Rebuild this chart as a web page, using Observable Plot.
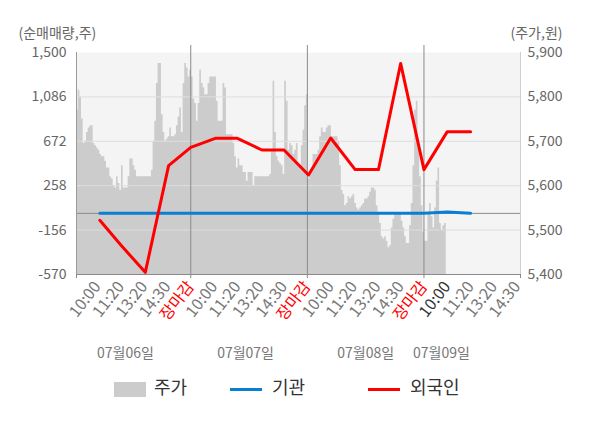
<!DOCTYPE html>
<html><head><meta charset="utf-8">
<script src="https://cdn.jsdelivr.net/npm/d3@7"></script>
<script src="https://cdn.jsdelivr.net/npm/@observablehq/plot@0.6"></script>
<style>
body{margin:0;background:#fff;font-family:"Noto Sans CJK KR","Noto Sans",sans-serif;}
#wrap{position:relative;width:600px;height:428px;overflow:hidden;}
#chart svg{display:block;}
.legend{position:absolute;top:374px;left:0;width:600px;height:24px;font-size:18px;color:#333;}
.item{position:absolute;top:0;height:24px;line-height:24px;white-space:nowrap;}
.sw{display:inline-block;vertical-align:middle;margin-right:8px;}
</style></head><body>
<div id="wrap"><div id="chart"></div>
<div class="legend">
  <div class="item" style="left:114px"><span class="sw" style="width:32px;height:15px;background:#cccccc"></span>주가</div>
  <div class="item" style="left:230px"><span class="sw" style="width:32px;height:3px;background:#0a7fd2;margin-right:10px"></span>기관</div>
  <div class="item" style="left:368px"><span class="sw" style="width:32px;height:3px;background:#ff0000;margin-right:10px"></span>외국인</div>
</div></div>
<script>
// x tick labels (one per tick index)
const tickLabels = ["10:00","11:20","13:20","14:30","장마감","10:00","11:20","13:20","14:30","장마감","10:00","11:20","13:20","14:30","장마감","10:00","11:20","13:20","14:30"];
const closeTicks = [4, 9, 14];
const darkTicks = [15];
const dates = ["07월06일","07월07일","07월08일","07월09일"];
const datePos = [1.2, 6.35, 11.5, 14.75];
const xDomain = [-0.9, 18.14];

// left axis (순매매량) and right axis (주가)
const leftTicks = [-570, -156, 258, 672, 1086, 1500];
const rightTicks = [5400, 5500, 5600, 5700, 5800, 5900];

// 주가 series (원), sampled along the time index
const priceStart = -0.9;
const priceStep = 1/14;
const prices = [
5770,5815,5800,5750,5695,5700,5720,5730,5735,5735,
5695,5690,5685,5680,5670,5665,5665,5655,5640,5640,
5620,5615,5600,5595,5620,5605,5590,5645,5595,5595,
5595,5620,5660,5660,5645,5635,5620,5620,5620,5620,
5620,5620,5620,5620,5620,5635,5700,5745,5830,5875,
5875,5760,5720,5700,5705,5710,5730,5710,5710,5715,
5735,5755,5775,5720,5830,5875,5865,5845,5860,5845,
5795,5785,5745,5785,5860,5830,5820,5805,5805,5830,
5845,5845,5845,5845,5790,5745,5745,5745,5830,5820,
5715,5715,5715,5715,5695,5665,5640,5660,5645,5645,
5630,5630,5610,5630,5630,5630,5600,5620,5620,5620,
5620,5620,5620,5620,5620,5620,5625,5680,5835,5720,
5665,5655,5650,5645,5625,5835,5790,5680,5695,5690,
5670,5680,5695,5645,5645,5690,5725,5780,5805,5615,
5625,5635,5670,5670,5670,5680,5710,5730,5720,5720,
5730,5735,5735,5710,5710,5710,5710,5700,5645,5590,
5580,5555,5560,5575,5570,5575,5580,5560,5550,5545,
5550,5555,5560,5570,5570,5575,5585,5595,5595,5590,
5555,5535,5515,5485,5480,5485,5475,5460,5465,5505,
5525,5535,5535,5535,5535,5520,5505,5485,5470,5470,
5510,5560,5645,5770,5790,5690,5620,5555,5495,5475,
5475,5540,5560,5530,5505,5550,5610,5640,5515,5500,
5510,5515];

// 순매매량 (주)
const flowX = [0.1, 1, 2.05, 3.05, 4, 5.05, 6, 7.05, 8, 9.05, 10, 11.05, 12.05, 13, 14, 15, 16];
const foreign = [-65, -295, -550, 445, 616, 700, 700, 591, 591, 358, 703, 408, 408, 1398, 408, 762, 762];
const institution = [0, 0, 0, 0, 0, 0, 0, 0, 0, 0, 0, 0, 0, 0, 0, 12, 0];

// map price to the left-axis units so both share one y scale
const pLo = rightTicks[0], pHi = rightTicks[rightTicks.length-1];
const vLo = leftTicks[0], vHi = leftTicks[leftTicks.length-1];
const toLeft = p => vLo + (p - pLo) / (pHi - pLo) * (vHi - vLo);
const toPrice = v => pLo + (v - vLo) / (vHi - vLo) * (pHi - pLo);

const priceData = prices.map((p, i) => ({x: priceStart + i * priceStep, v: toLeft(p)}));
priceData.push({x: priceStart + prices.length * priceStep, v: toLeft(prices[prices.length-1])});
const foreignData = flowX.map((x, i) => ({x, v: foreign[i]}));
const instData = flowX.map((x, i) => ({x, v: institution[i]}));

const allIdx = tickLabels.map((d, i) => i);
const normalTicks = allIdx.filter(i => !closeTicks.includes(i) && !darkTicks.includes(i));
const fmt = d3.format(",");
const fmtL = d => fmt(d).replace("\u2212", "-");

const H = 365, plotTop = 52, plotBottom = 274;
const pxPerUnit = (plotBottom - plotTop) / (vHi - vLo);
const above = u => vHi + u / pxPerUnit;
const below = u => vLo - u / pxPerUnit;

const xAxisOpts = {tickFormat: i => tickLabels[i], tickRotate: -52, tickSize: 0, tickPadding: 9, fontSize: 16, label: null};

const chart = Plot.plot({
  width: 600, height: H,
  marginTop: plotTop, marginBottom: H - plotBottom, marginLeft: 76, marginRight: 80,
  style: {fontFamily: '"Noto Sans CJK KR","Noto Sans",sans-serif', fontSize: "13px", background: "#fff", overflow: "visible"},
  x: {domain: xDomain, axis: null},
  y: {domain: [vLo, vHi], axis: null},
  marks: [
    Plot.frame({fill: "#f4f4f4", stroke: null}),
    Plot.areaY(priceData, {x: "x", y1: vLo, y2: "v", curve: "step-after", fill: "#cccccc"}),
    Plot.ruleY(leftTicks.slice(1, -1), {stroke: "#dedede", strokeWidth: 1}),
    Plot.ruleY([0], {stroke: "#8a8a8a"}),
    Plot.ruleY([vLo], {stroke: "#8a8a8a"}),
    Plot.ruleX(closeTicks, {y1: vLo, y2: above(7), stroke: "#8a8a8a"}),
    Plot.ruleX([xDomain[0], ...closeTicks, xDomain[1]], {y1: vLo, y2: below(4), stroke: "#8a8a8a"}),
    Plot.ruleX([xDomain[0]], {y1: vLo, y2: vHi, stroke: "#9a9a9a"}),
    Plot.ruleX([xDomain[1]], {y1: vLo, y2: vHi, stroke: "#cfcfcf"}),
    Plot.line(instData, {x: "x", y: "v", stroke: "#0a7fd2", strokeWidth: 3}),
    Plot.line(foreignData, {x: "x", y: "v", stroke: "#ff0000", strokeWidth: 3}),
    Plot.axisY(leftTicks, {anchor: "left", tickSize: 0, tickPadding: 10, tickFormat: fmtL, fill: "#666", fontSize: 14, label: null}),
    Plot.axisY(leftTicks, {anchor: "right", tickSize: 0, tickPadding: 7, tickFormat: d => fmt(Math.round(toPrice(d))), fill: "#666", fontSize: 14, label: null}),
    Plot.axisX(normalTicks, {...xAxisOpts, fill: "#777"}),
    Plot.axisX(closeTicks, {...xAxisOpts, fill: "#ff0000"}),
    Plot.axisX(darkTicks, {...xAxisOpts, fill: "#333"}),
    Plot.text(dates.map((d, i) => ({d, x: datePos[i]})), {x: "x", text: "d", frameAnchor: "bottom", lineAnchor: "middle", dy: 79, fill: "#777", fontSize: 14}),
    Plot.text(["(순매매량,주)"], {frameAnchor: "top-left", lineAnchor: "middle", dx: -58, dy: -19, textAnchor: "start", fill: "#666", fontSize: 14}),
    Plot.text(["(주가,원)"], {frameAnchor: "top-right", lineAnchor: "middle", dx: 42, dy: -19, textAnchor: "end", fill: "#666", fontSize: 14})
  ]
});
document.getElementById("chart").appendChild(chart);
</script>
</body></html>
